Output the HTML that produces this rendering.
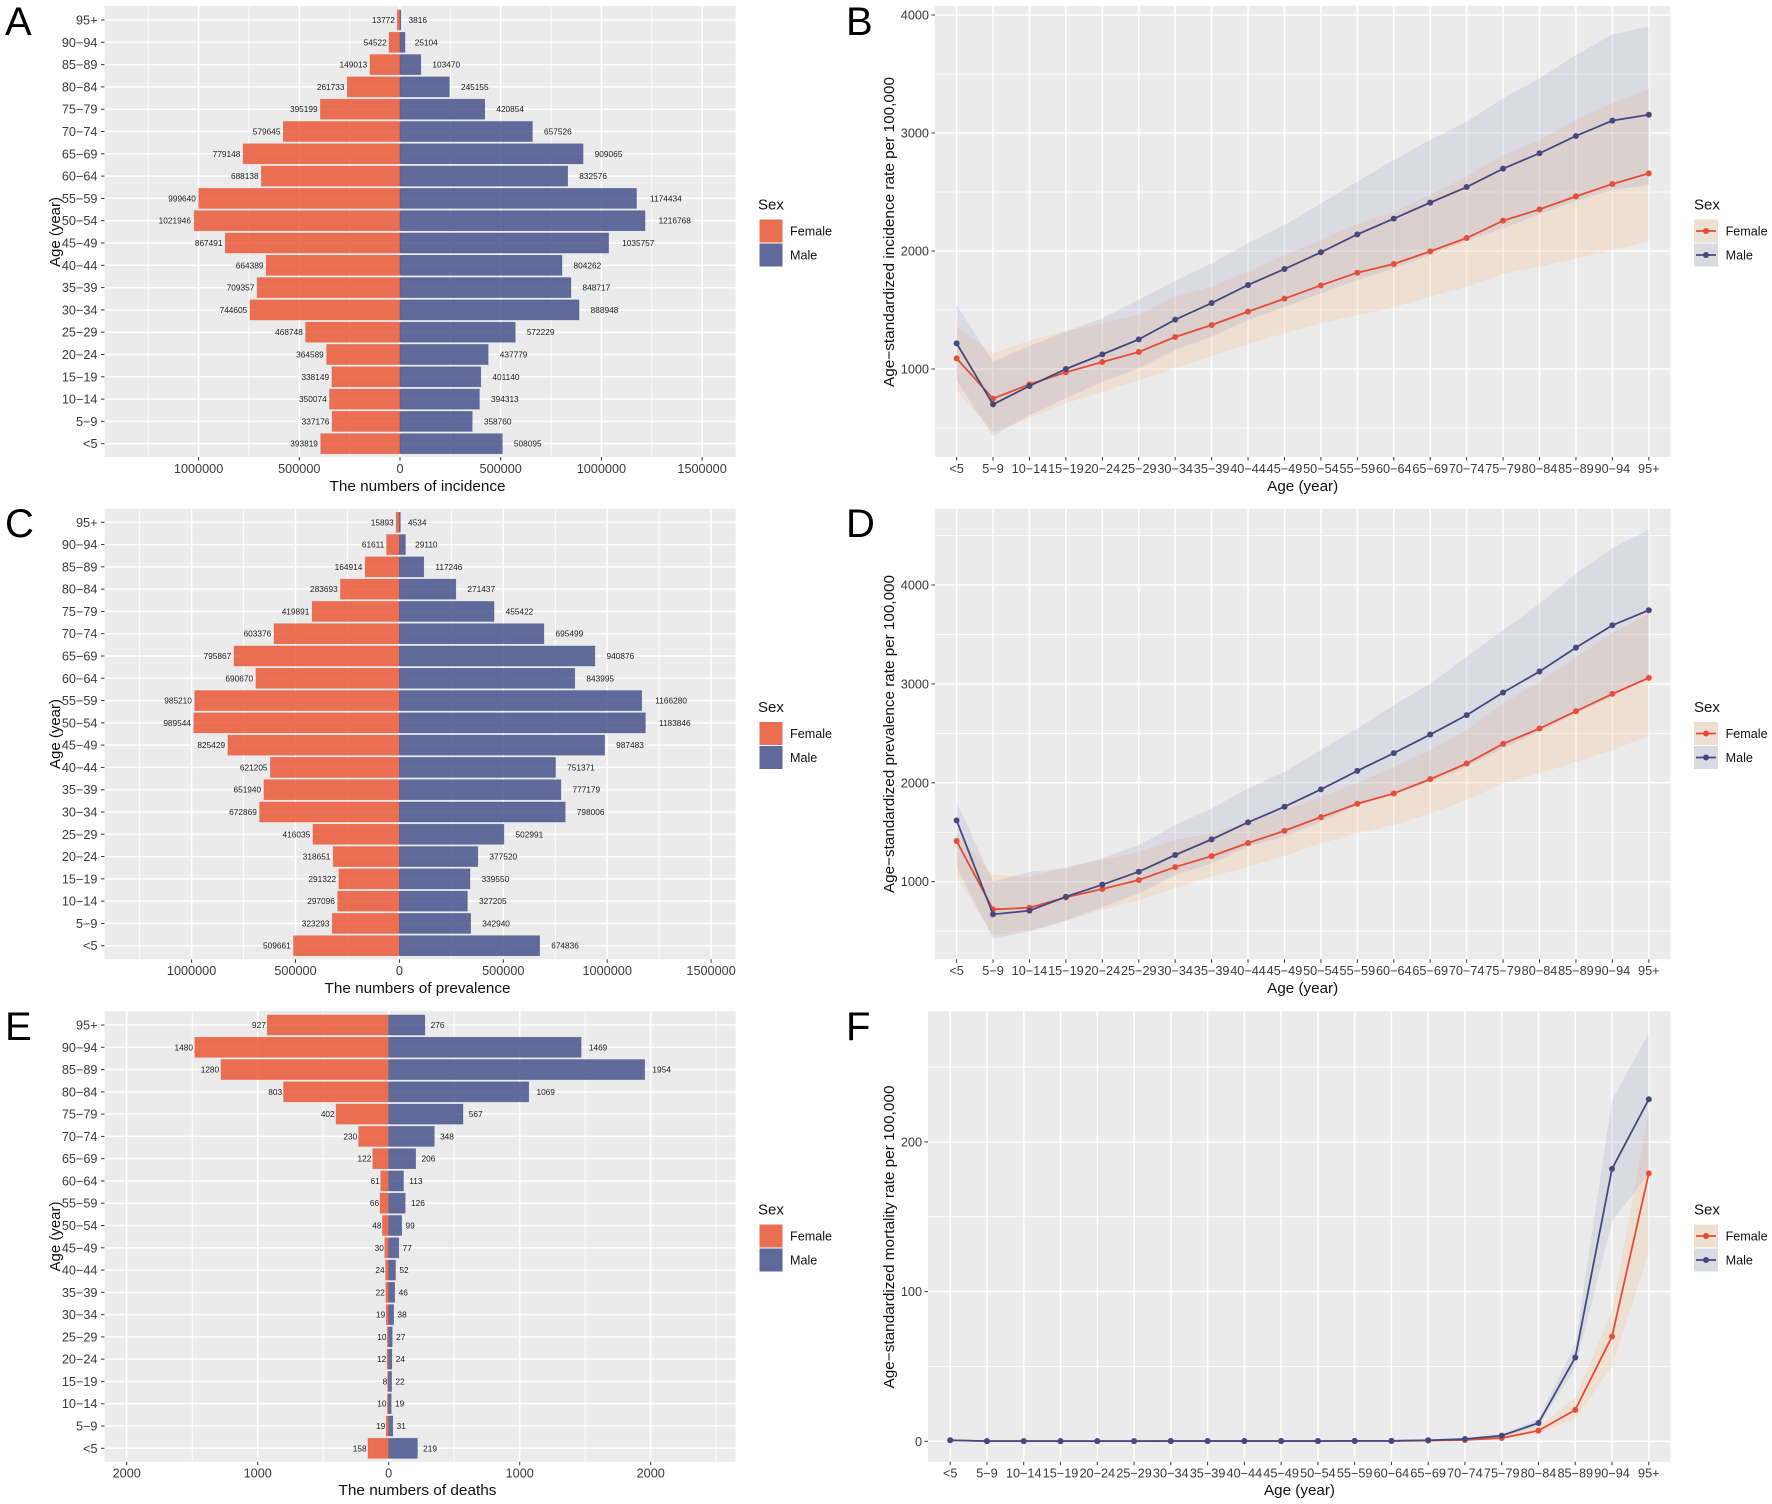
<!DOCTYPE html>
<html lang="en">
<head>
<meta charset="utf-8">
<title>Age and sex distribution of incidence, prevalence and deaths</title>
<style>
html,body{margin:0;padding:0;background:#fff;}
svg{display:block;font-family:"Liberation Sans",Arial,sans-serif;filter:blur(0.35px);}
.letter{font-size:40px;fill:#000;}
.axis-title{font-size:15px;fill:#111;text-anchor:middle;}
.tick{font-size:12.7px;fill:#3a3a3a;}
.leg-title{font-size:15px;fill:#111;}
.leg-label{font-size:12.6px;fill:#111;}
.val{font-size:8.3px;fill:#1a1a1a;}
</style>
</head>
<body>
<svg id="figure" xmlns="http://www.w3.org/2000/svg" width="1772" height="1504" viewBox="0 0 1772 1504">
  <rect x="0" y="0" width="1772" height="1504" fill="#fff"/>

  <g id="marks-a"></g>
  <g id="marks-b"></g>
  <g id="marks-c"></g>
  <g id="marks-d"></g>
  <g id="marks-e"></g>
  <g id="marks-f"></g>

  <text class="letter" x="5" y="35">A</text>
  <text class="letter" x="846" y="35">B</text>
  <text class="letter" x="5" y="537">C</text>
  <text class="letter" x="846" y="537">D</text>
  <text class="letter" x="5" y="1040">E</text>
  <text class="letter" x="846" y="1040">F</text>

  <text class="axis-title" x="417.5" y="491" textLength="176" lengthAdjust="spacingAndGlyphs">The numbers of incidence</text>
  <text class="axis-title" x="417.5" y="993" textLength="186" lengthAdjust="spacingAndGlyphs">The numbers of prevalence</text>
  <text class="axis-title" x="417.5" y="1495" textLength="158" lengthAdjust="spacingAndGlyphs">The numbers of deaths</text>
  <text class="axis-title" x="1302.7" y="491" textLength="71" lengthAdjust="spacingAndGlyphs">Age (year)</text>
  <text class="axis-title" x="1302.7" y="993" textLength="71" lengthAdjust="spacingAndGlyphs">Age (year)</text>
  <text class="axis-title" x="1299.5" y="1495" textLength="71" lengthAdjust="spacingAndGlyphs">Age (year)</text>

  <text class="axis-title" transform="translate(60 232) rotate(-90)" textLength="70" lengthAdjust="spacingAndGlyphs">Age (year)</text>
  <text class="axis-title" transform="translate(60 734) rotate(-90)" textLength="70" lengthAdjust="spacingAndGlyphs">Age (year)</text>
  <text class="axis-title" transform="translate(60 1236.5) rotate(-90)" textLength="70" lengthAdjust="spacingAndGlyphs">Age (year)</text>
  <text class="axis-title" transform="translate(894 232) rotate(-90)" textLength="310" lengthAdjust="spacingAndGlyphs">Age−standardized incidence rate per 100,000</text>
  <text class="axis-title" transform="translate(894 734) rotate(-90)" textLength="318" lengthAdjust="spacingAndGlyphs">Age−standardized prevalence rate per 100,000</text>
  <text class="axis-title" transform="translate(894 1237) rotate(-90)" textLength="303" lengthAdjust="spacingAndGlyphs">Age−standardized mortality rate per 100,000</text>

  <g>
    <text class="leg-title" x="758" y="209.5">Sex</text>
    <rect x="759.5" y="219.5" width="23" height="23" fill="#EA6F52"/>
    <rect x="759.5" y="243.5" width="23" height="23" fill="#5F6A9B"/>
    <text class="leg-label" x="790" y="235.5">Female</text>
    <text class="leg-label" x="790" y="259.5">Male</text>
  </g>
  <g>
    <text class="leg-title" x="758" y="712">Sex</text>
    <rect x="759.5" y="722" width="23" height="23" fill="#EA6F52"/>
    <rect x="759.5" y="746" width="23" height="23" fill="#5F6A9B"/>
    <text class="leg-label" x="790" y="738">Female</text>
    <text class="leg-label" x="790" y="762">Male</text>
  </g>
  <g>
    <text class="leg-title" x="758" y="1214.5">Sex</text>
    <rect x="759.5" y="1224.5" width="23" height="23" fill="#EA6F52"/>
    <rect x="759.5" y="1248.5" width="23" height="23" fill="#5F6A9B"/>
    <text class="leg-label" x="790" y="1240.5">Female</text>
    <text class="leg-label" x="790" y="1264.5">Male</text>
  </g>

  <g>
    <text class="leg-title" x="1694" y="209.5">Sex</text>
    <rect x="1694" y="219.5" width="24" height="23" fill="#EEDFD3"/>
    <rect x="1694" y="243.5" width="24" height="23" fill="#DADAE2"/>
    <line x1="1696" x2="1716" y1="231" y2="231" stroke="#E64B35" stroke-width="1.8"/>
    <circle cx="1706" cy="231" r="3" fill="#E64B35"/>
    <line x1="1696" x2="1716" y1="255" y2="255" stroke="#45497F" stroke-width="1.8"/>
    <circle cx="1706" cy="255" r="3" fill="#45497F"/>
    <text class="leg-label" x="1725.6" y="235.5">Female</text>
    <text class="leg-label" x="1725.6" y="259.5">Male</text>
  </g>
  <g>
    <text class="leg-title" x="1694" y="712">Sex</text>
    <rect x="1694" y="722" width="24" height="23" fill="#EEDFD3"/>
    <rect x="1694" y="746" width="24" height="23" fill="#DADAE2"/>
    <line x1="1696" x2="1716" y1="733.5" y2="733.5" stroke="#E64B35" stroke-width="1.8"/>
    <circle cx="1706" cy="733.5" r="3" fill="#E64B35"/>
    <line x1="1696" x2="1716" y1="757.5" y2="757.5" stroke="#45497F" stroke-width="1.8"/>
    <circle cx="1706" cy="757.5" r="3" fill="#45497F"/>
    <text class="leg-label" x="1725.6" y="738">Female</text>
    <text class="leg-label" x="1725.6" y="762">Male</text>
  </g>
  <g>
    <text class="leg-title" x="1694" y="1214.5">Sex</text>
    <rect x="1694" y="1224.5" width="24" height="23" fill="#EEDFD3"/>
    <rect x="1694" y="1248.5" width="24" height="23" fill="#DADAE2"/>
    <line x1="1696" x2="1716" y1="1236" y2="1236" stroke="#E64B35" stroke-width="1.8"/>
    <circle cx="1706" cy="1236" r="3" fill="#E64B35"/>
    <line x1="1696" x2="1716" y1="1260" y2="1260" stroke="#45497F" stroke-width="1.8"/>
    <circle cx="1706" cy="1260" r="3" fill="#45497F"/>
    <text class="leg-label" x="1725.6" y="1240.5">Female</text>
    <text class="leg-label" x="1725.6" y="1264.5">Male</text>
  </g>
</svg>

<script>
// ---------- categories (ordered from youngest to oldest) ----------
const ageGroups = ["<5","5−9","10−14","15−19","20−24","25−29","30−34","35−39","40−44","45−49","50−54","55−59","60−64","65−69","70−74","75−79","80−84","85−89","90−94","95+"];

// ---------- panel A: numbers of incidence ----------
const incidenceFemale = [393819,337176,350074,338149,364589,468748,744605,709357,664389,867491,1021946,999640,688138,779148,579645,395199,261733,149013,54522,13772];
const incidenceMale = [508095,358760,394313,401140,437779,572229,888948,848717,804262,1035757,1216768,1174434,832576,909065,657526,420854,245155,103470,25104,3816];
const incidenceTicks = [-1000000,-500000,0,500000,1000000,1500000];

// ---------- panel C: numbers of prevalence ----------
const prevalenceFemale = [509661,323293,297096,291322,318651,416035,672869,651940,621205,825429,989544,985210,690670,795867,603376,419891,283693,164914,61611,15893];
const prevalenceMale = [674836,342940,327205,339550,377520,502991,798006,777179,751371,987483,1183846,1166280,843995,940876,695499,455422,271437,117246,29110,4534];
const prevalenceTicks = [-1000000,-500000,0,500000,1000000,1500000];

// ---------- panel E: numbers of deaths ----------
const deathsFemale = [158,19,10,8,12,10,19,22,24,30,48,66,61,122,230,402,803,1280,1480,927];
const deathsMale = [219,31,19,22,24,27,38,46,52,77,99,126,113,206,348,567,1069,1954,1469,276];
const deathsTicks = [-2000,-1000,0,1000,2000];

// ---------- panel B: age-standardized incidence rate ----------
const incRateFemale = [1090,749,870,972,1059,1144,1271,1373,1486,1596,1709,1816,1890,1997,2110,2257,2353,2463,2568,2658];
const incRateFemaleUpper = [1355,1135,1240,1325,1387,1458,1613,1698,1825,1966,2093,2229,2333,2475,2630,2814,2941,3110,3251,3370];
const incRateFemaleLower = [820,466,585,709,808,907,1006,1110,1212,1302,1387,1458,1523,1613,1698,1805,1867,1938,2008,2079];
const incRateMale = [1217,700,856,1000,1124,1251,1418,1559,1712,1847,1989,2141,2274,2410,2542,2698,2828,2975,3105,3155];
const incRateMaleUpper = [1542,1062,1195,1316,1429,1585,1749,1895,2065,2220,2404,2588,2771,2941,3096,3294,3463,3661,3836,3901];
const incRateMaleLower = [905,432,610,751,893,1006,1161,1274,1415,1528,1641,1754,1853,1966,2088,2192,2311,2424,2517,2559];
const incRateTicks = [1000,2000,3000,4000];
const incRateMinorTicks = [500,1500,2500,3500];

// ---------- panel D: age-standardized prevalence rate ----------
const prevRateFemale = [1411,720,737,842,926,1017,1148,1259,1391,1515,1653,1788,1892,2037,2195,2394,2549,2724,2899,3061];
const prevRateFemaleUpper = [1489,1067,1050,1152,1219,1303,1421,1489,1607,1725,1859,1994,2163,2331,2533,2803,3022,3275,3511,3713];
const prevRateFemaleLower = [1050,461,511,606,714,815,939,1050,1152,1260,1388,1489,1573,1691,1826,1994,2095,2213,2331,2476];
const prevRateMale = [1620,670,707,848,970,1101,1270,1428,1600,1758,1933,2121,2300,2488,2684,2913,3125,3367,3593,3745];
const prevRateMaleUpper = [1808,1000,1101,1135,1236,1370,1572,1741,1943,2111,2330,2549,2785,3003,3273,3542,3811,4114,4373,4559];
const prevRateMaleLower = [1152,428,495,607,747,882,1067,1185,1354,1455,1606,1775,1893,2011,2163,2348,2517,2702,2871,3073];
const prevRateTicks = [1000,2000,3000,4000];
const prevRateMinorTicks = [500,1500,2500,3500,4500];

// ---------- panel F: age-standardized mortality rate ----------
const mortRateFemale = [0.7,0.1,0.1,0.1,0.1,0.1,0.1,0.1,0.1,0.1,0.1,0.2,0.2,0.5,0.9,2.2,7.1,21,70,179];
const mortRateFemaleUpper = [1.2,0.2,0.2,0.2,0.2,0.2,0.2,0.3,0.3,0.3,0.3,0.4,0.4,0.7,1.2,3.6,10,29,87,221];
const mortRateFemaleLower = [0.4,0.1,0.1,0.1,0.1,0.1,0.1,0.1,0.1,0.1,0.1,0.1,0.1,0.3,0.6,1.3,5.3,15,50,126];
const mortRateMale = [0.7,0.1,0.1,0.1,0.1,0.1,0.2,0.2,0.2,0.2,0.2,0.3,0.3,0.7,1.5,3.8,12.2,56,182,228.5];
const mortRateMaleUpper = [1.4,0.2,0.2,0.2,0.2,0.3,0.3,0.4,0.4,0.4,0.4,0.6,0.6,1,2.2,5,15,65,228,272.6];
const mortRateMaleLower = [0.4,0.1,0.1,0.1,0.1,0.1,0.1,0.1,0.1,0.1,0.1,0.2,0.2,0.4,1,3,10,49,147,179];
const mortRateTicks = [0,100,200];
const mortRateMinorTicks = [50,150,250];

const svgNS = "http://www.w3.org/2000/svg";
function make(tag, parent, attrs, text) {
  const node = document.createElementNS(svgNS, tag);
  for (const k in attrs) node.setAttribute(k, attrs[k]);
  if (text !== undefined) node.textContent = text;
  parent.appendChild(node);
  return node;
}
const GRID = "#ffffff";
const TICK = "#333333";

function drawPyramid(cfg) {
  const root = document.getElementById(cfg.id);
  const n = ageGroups.length;
  const x = v => cfg.zeroX + v * cfg.pxPerUnit;
  const y = i => cfg.yFirst + (cfg.yLast - cfg.yFirst) * i / (n - 1);
  const bg = make("rect", root, {x: cfg.left, y: cfg.top, width: cfg.right - cfg.left, height: cfg.bottom - cfg.top, fill: "#EBEBEB"});
  
  

  const step = cfg.ticks[1] - cfg.ticks[0];
  for (let m = -8; m <= 8; m++) {
    const v = m * step / 2;
    const px = x(v);
    if (px <= cfg.left || px >= cfg.right) continue;
    const major = m % 2 === 0;
    const g = make("line", root, {x1: px, x2: px, y1: cfg.top, y2: cfg.bottom, stroke: GRID, "stroke-width": major ? 1.5 : 0.8});
    
    
  }
  ageGroups.forEach((label, i) => {
    const line = make("line", root, {x1: cfg.left, x2: cfg.right, y1: y(i), y2: y(i), stroke: GRID, "stroke-width": 1.5});
    
    
  });

  const halfBar = Math.abs(cfg.yLast - cfg.yFirst) / (n - 1) * 0.45;
  ageGroups.forEach((label, i) => {
    const f = cfg.female[i], m = cfg.male[i];
    const fBar = make("rect", root, {x: x(-f), y: y(i) - halfBar, width: x(0) - x(-f), height: halfBar * 2, fill: "#EA5937", "fill-opacity": 0.85, stroke: "#E64B35", "stroke-opacity": 0.5, "stroke-width": 0.6});
    
    
    const mBar = make("rect", root, {x: x(0), y: y(i) - halfBar, width: x(m) - x(0), height: halfBar * 2, fill: "#46538D", "fill-opacity": 0.85, stroke: "#3C4A88", "stroke-opacity": 0.5, "stroke-width": 0.6});
    
    
  });
  ageGroups.forEach((label, i) => {
    const f = cfg.female[i], m = cfg.male[i];
    const fText = String(f), mText = String(m);
    const fLabel = make("text", root, {class: "val", x: x(-f) - 0.46 * fText.length, y: y(i) + 3, "text-anchor": "end"}, fText);
    
    
    const mLabel = make("text", root, {class: "val", x: x(m) + 1.93 * mText.length, y: y(i) + 3}, mText);
    
    
    const tick = make("line", root, {x1: cfg.left - 3.5, x2: cfg.left, y1: y(i), y2: y(i), stroke: TICK, "stroke-width": 1});
    
    
    const tl = make("text", root, {class: "tick", x: cfg.left - 7, y: y(i) + 4.5, "text-anchor": "end"}, label);
    
    
  });
  cfg.ticks.forEach(v => {
    const tick = make("line", root, {x1: x(v), x2: x(v), y1: cfg.bottom, y2: cfg.bottom + 3.5, stroke: TICK, "stroke-width": 1});
    
    
    const tl = make("text", root, {class: "tick", x: x(v), y: cfg.bottom + 15.8, "text-anchor": "middle"}, String(Math.abs(v)));
    
    
  });
}

function drawRates(cfg) {
  const root = document.getElementById(cfg.id);
  const n = ageGroups.length;
  const x = i => cfg.xFirst + (cfg.xLast - cfg.xFirst) * i / (n - 1);
  const y = v => cfg.zeroY - v * cfg.pxPerUnit;
  const bg = make("rect", root, {x: cfg.left, y: cfg.top, width: cfg.right - cfg.left, height: cfg.bottom - cfg.top, fill: "#EBEBEB"});
  
  

  cfg.minorTicks.forEach(v => {
    if (y(v) <= cfg.top || y(v) >= cfg.bottom) return;
    const g = make("line", root, {x1: cfg.left, x2: cfg.right, y1: y(v), y2: y(v), stroke: GRID, "stroke-width": 0.8});
    
    
  });
  cfg.ticks.forEach(v => {
    const g = make("line", root, {x1: cfg.left, x2: cfg.right, y1: y(v), y2: y(v), stroke: GRID, "stroke-width": 1.5});
    
    
    const tick = make("line", root, {x1: cfg.left - 3.5, x2: cfg.left, y1: y(v), y2: y(v), stroke: TICK, "stroke-width": 1});
    
    
    const tl = make("text", root, {class: "tick", x: cfg.left - 6, y: y(v) + 4.5, "text-anchor": "end"}, String(v));
    
    
  });
  ageGroups.forEach((label, i) => {
    const g = make("line", root, {x1: x(i), x2: x(i), y1: cfg.top, y2: cfg.bottom, stroke: GRID, "stroke-width": 1.5});
    
    
    const tick = make("line", root, {x1: x(i), x2: x(i), y1: cfg.bottom, y2: cfg.bottom + 3.5, stroke: TICK, "stroke-width": 1});
    
    
    const tl = make("text", root, {class: "tick", x: x(i), y: cfg.bottom + 15.8, "text-anchor": "middle"}, label);
    
    
  });

  function ribbonPath(upper, lower) {
    const top = upper.map((v, i) => x(i) + "," + y(v));
    const bot = lower.map((v, i) => x(i) + "," + y(v)).reverse();
    return top.concat(bot).join(" ");
  }
  const rf = make("polygon", root, {points: ribbonPath(cfg.fUpper, cfg.fLower), fill: "rgb(250,175,115)", "fill-opacity": 0.2});
  
  
  const rm = make("polygon", root, {points: ribbonPath(cfg.mUpper, cfg.mLower), fill: "rgb(150,150,190)", "fill-opacity": 0.2});
  
  

  const lf = make("polyline", root, {points: cfg.female.map((v, i) => x(i) + "," + y(v)).join(" "), fill: "none", stroke: "#E64B35", "stroke-width": 1.8});
  
  
  cfg.female.forEach((v, i) => {
    const d = make("circle", root, {cx: x(i), cy: y(v), r: 3, fill: "#E6503A"});
    
    
  });
  const lm = make("polyline", root, {points: cfg.male.map((v, i) => x(i) + "," + y(v)).join(" "), fill: "none", stroke: "#45497F", "stroke-width": 1.8});
  
  
  cfg.male.forEach((v, i) => {
    const d = make("circle", root, {cx: x(i), cy: y(v), r: 3, fill: "#45497F"});
    
    
  });
}

drawPyramid({id: "marks-a", female: incidenceFemale, male: incidenceMale, ticks: incidenceTicks,
  left: 104.5, right: 735.6, top: 6, bottom: 457, zeroX: 400, pxPerUnit: 100.7 / 500000, yFirst: 443.7, yLast: 20});
drawPyramid({id: "marks-c", female: prevalenceFemale, male: prevalenceMale, ticks: prevalenceTicks,
  left: 104.5, right: 735.6, top: 509, bottom: 959.3, zeroX: 399.4, pxPerUnit: 103.9 / 500000, yFirst: 945.7, yLast: 522.3});
drawPyramid({id: "marks-e", female: deathsFemale, male: deathsMale, ticks: deathsTicks,
  left: 104.5, right: 735.6, top: 1011, bottom: 1461.7, zeroX: 388.7, pxPerUnit: 131 / 1000, yFirst: 1448.3, yLast: 1025});

drawRates({id: "marks-b", female: incRateFemale, fUpper: incRateFemaleUpper, fLower: incRateFemaleLower,
  male: incRateMale, mUpper: incRateMaleUpper, mLower: incRateMaleLower, ticks: incRateTicks, minorTicks: incRateMinorTicks,
  left: 935, right: 1670.4, top: 6, bottom: 457, xFirst: 956.6, xLast: 1648.8, zeroY: 487, pxPerUnit: 0.118});
drawRates({id: "marks-d", female: prevRateFemale, fUpper: prevRateFemaleUpper, fLower: prevRateFemaleLower,
  male: prevRateMale, mUpper: prevRateMaleUpper, mLower: prevRateMaleLower, ticks: prevRateTicks, minorTicks: prevRateMinorTicks,
  left: 935, right: 1670.4, top: 509, bottom: 959.3, xFirst: 956.6, xLast: 1648.8, zeroY: 980.6, pxPerUnit: 0.0989});
drawRates({id: "marks-f", female: mortRateFemale, fUpper: mortRateFemaleUpper, fLower: mortRateFemaleLower,
  male: mortRateMale, mUpper: mortRateMaleUpper, mLower: mortRateMaleLower, ticks: mortRateTicks, minorTicks: mortRateMinorTicks,
  left: 928, right: 1670.4, top: 1011, bottom: 1461.7, xFirst: 950.2, xLast: 1648.8, zeroY: 1441.3, pxPerUnit: 1.497});
</script>
</body>
</html>
